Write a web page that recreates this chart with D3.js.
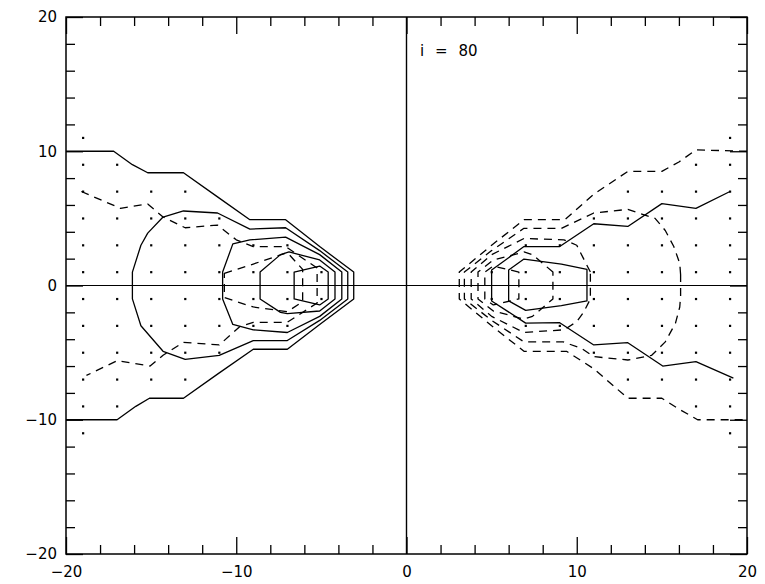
<!DOCTYPE html>
<html>
<head>
<meta charset="utf-8">
<script src="https://cdn.jsdelivr.net/npm/d3@7"></script>
<style>
  html, body { margin: 0; padding: 0; background: #fff; }
  svg { display: block; }
  text { font-family: "DejaVu Sans", sans-serif; fill: #000; }
</style>
</head>
<body>
<svg id="chart" width="765" height="584"></svg>
<script>
// ---------------- data ----------------
const xDomain = [-20, 20];
const yDomain = [-20, 20];
const majorTicks = [-20, -10, 0, 10, 20];
const minorTicks = [-18, -16, -14, -12, -8, -6, -4, -2, 2, 4, 6, 8, 12, 14, 16, 18];
const annotation = "i = 80";

// grid points marked with dots (rows of y, x positions per row)
const dotRowsY = [11, 9, 7, 5, 3, 1, -1, -3, -5, -7, -9, -11];
const dotsLeftX = [
  [-19],
  [-19, -17],
  [-19, -17, -15, -13],
  [-19, -17, -15, -13, -11],
  [-19, -17, -15, -13, -11, -9, -7],
  [-19, -17, -15, -13, -11, -9, -7, -5],
  [-19, -17, -15, -13, -11, -9, -7, -5],
  [-19, -17, -15, -13, -11, -9, -7],
  [-19, -17, -15, -13, -11],
  [-19, -17, -15, -13],
  [-19, -17],
  [-19]
];
const dotsRightX = [
  [19],
  [17, 19],
  [13, 15, 17, 19],
  [11, 13, 15, 17, 19],
  [7, 9, 11, 13, 15, 17, 19],
  [5, 7, 9, 11, 13, 15, 17, 19],
  [5, 7, 9, 11, 13, 15, 17, 19],
  [7, 9, 11, 13, 15, 17, 19],
  [11, 13, 15, 17, 19],
  [13, 15, 17, 19],
  [17, 19],
  [19]
];

// left-hand contours (solid)
const leftSolidA = [[-20,10],[-17.2,10],[-16.1,9],[-15.2,8.4],[-13.1,8.4],[-11.1,6.6],[-9.2,4.9],[-7.1,4.9],[-5.1,2.9],[-3.1,1.0],[-3.1,-1.0],[-5.1,-2.9],[-7.0,-4.75],[-9.0,-4.75],[-11.1,-6.6],[-13.1,-8.4],[-15.1,-8.4],[-15.9,-9],[-17.0,-10],[-20,-10]];
const leftSolidB = [[-16.1,1],[-15.6,3.0],[-15.2,3.9],[-14.3,5.1],[-13.1,5.55],[-11.1,5.4],[-9.2,4.2],[-7.1,4.3],[-5.1,2.6],[-3.45,1.0],[-3.45,-1.0],[-5.1,-2.6],[-7.0,-4.1],[-9.0,-4.1],[-11.0,-5.2],[-13.0,-5.5],[-14.3,-4.9],[-15.6,-3.0],[-16.1,-1]];
const leftSolidC = [[-10.8,1],[-10.2,3.1],[-9.2,3.4],[-7.1,3.6],[-5.1,2.3],[-3.8,1.0],[-3.8,-1.0],[-5.1,-2.3],[-7.0,-3.5],[-9.0,-3.3],[-10.2,-2.9],[-10.8,-1]];
const leftSolidD = [[-8.6,1],[-7.4,2.3],[-6.9,2.5],[-5.1,1.9],[-4.2,1.0],[-4.2,-1.0],[-5.1,-1.9],[-7.0,-2.1],[-7.4,-2.0],[-8.6,-1]];
const leftSolidE = [[-6.6,1.0],[-5.1,1.45],[-4.6,1.0],[-4.6,-1.0],[-5.1,-1.45],[-6.6,-1.0]];
// left-hand contours (dashed)
const leftDashA = [[-19.1,7.0],[-16.8,5.75],[-15.2,6.07],[-14.3,5.1],[-13.0,4.3],[-11.1,4.5],[-10.0,3.4],[-9.0,2.9],[-7.1,2.9],[-5.25,1.3],[-5.25,-1.3],[-7.0,-2.74],[-9.0,-2.74],[-9.8,-3.07],[-11.0,-4.43],[-13.1,-4.23],[-14.3,-5.2],[-15.06,-6.0],[-17.0,-5.6],[-18.8,-6.7]];
const leftDashB = [[-10.7,0.9],[-9.0,1.6],[-7.0,2.45],[-6.1,1.2],[-6.1,-1.2],[-7.0,-1.95],[-9.0,-1.6],[-10.7,-0.9]];

// right-hand contours (dashed)
const rightDashA = [[20,10],[17,10.1],[16,9.2],[15,8.5],[13,8.5],[11,6.8],[9.3,4.9],[6.9,4.9],[5.0,3.0],[3.1,1.0],[3.1,-1.0],[5.0,-3.0],[6.9,-4.9],[9.4,-4.9],[11,-6.2],[13,-8.4],[15,-8.4],[16,-9.2],[17.1,-10],[20,-10]];
const rightDashB = [[16.1,0.8],[16.05,1.65],[15.7,2.9],[15.2,4.1],[14.6,5.0],[13.0,5.67],[11.0,5.4],[9.1,4.26],[6.9,4.26],[5.0,2.6],[3.4,1.0],[3.4,-1.0],[5.0,-2.6],[6.9,-4.2],[9.2,-4.2],[10.3,-4.7],[11.0,-5.3],[13.0,-5.55],[14.4,-5.2],[15.2,-4.2],[15.8,-2.8],[16.05,-1.6],[16.1,-0.8]];
const rightDashC = [[10.8,1],[10.4,2.0],[10.0,3.0],[9.25,3.4],[6.9,3.5],[5.0,2.3],[3.8,1.0],[3.8,-1.0],[5.0,-2.3],[6.9,-3.5],[9.25,-3.3],[10.0,-2.7],[10.4,-2.0],[10.8,-1]];
const rightDashD = [[8.6,1],[7.4,2.3],[6.9,2.5],[5.1,1.9],[4.2,1.0],[4.2,-1.0],[5.1,-1.9],[6.9,-2.5],[7.4,-2.3],[8.6,-1]];
const rightDashE = [[6.6,1.0],[5.1,1.45],[4.6,1.0],[4.6,-1.0],[5.1,-1.45],[6.6,-1.0]];
// right-hand contours (solid)
const rightSolidA = [[19.0,7.0],[17.0,5.75],[15.0,6.1],[13.0,4.4],[11.0,4.6],[9.0,2.9],[6.9,2.9],[5.0,1.15],[5.0,-1.15],[7.0,-2.8],[9.0,-2.77],[11.0,-4.43],[13.0,-4.26],[15.05,-6.0],[17.0,-5.67],[19.2,-6.9]];
const rightSolidB = [[10.6,1.2],[9.1,1.6],[6.9,1.97],[6.0,1.15],[6.0,-1.15],[7.0,-1.85],[9.1,-1.5],[10.6,-1.15]];

// ---------------- drawing ----------------
const svg = d3.select("#chart");
const mLeft = 66, mRight = 747, mTop = 17, mBottom = 554;

const x = d3.scaleLinear().domain(xDomain).range([mLeft, mRight]);
const y = d3.scaleLinear().domain(yDomain).range([mBottom, mTop]);

const openLine = d3.line().x(d => x(d[0])).y(d => y(d[1]));
const closedLine = d3.line().x(d => x(d[0])).y(d => y(d[1])).curve(d3.curveLinearClosed);

// frame
svg.append("rect")
  .attr("x", mLeft).attr("y", mTop)
  .attr("width", mRight - mLeft).attr("height", mBottom - mTop)
  .attr("fill", "none").attr("stroke", "#000").attr("stroke-width", 1.5);

// zero lines
svg.append("line")
  .attr("x1", x(0)).attr("x2", x(0)).attr("y1", mTop).attr("y2", mBottom)
  .attr("stroke", "#000").attr("stroke-width", 1.4);
svg.append("line")
  .attr("x1", mLeft).attr("x2", mRight).attr("y1", y(0)).attr("y2", y(0))
  .attr("stroke", "#000").attr("stroke-width", 1.2);

function styleAxis(g) {
  g.select(".domain").remove();
  g.selectAll(".tick line").attr("stroke", "#000").attr("stroke-width", 1.3);
  g.selectAll("text").style("font-family", "'DejaVu Sans', sans-serif")
    .style("font-size", "15px").attr("fill", "#000");
}

// bottom axis
svg.append("g").attr("transform", `translate(0,${mBottom})`)
  .call(d3.axisBottom(x).tickValues(minorTicks).tickSize(-9).tickFormat(""))
  .call(styleAxis);
svg.append("g").attr("transform", `translate(0,${mBottom})`)
  .call(d3.axisBottom(x).tickValues(majorTicks).tickSize(-17).tickPadding(12).tickFormat(d3.format("d")))
  .call(styleAxis);
// top axis
svg.append("g").attr("transform", `translate(0,${mTop})`)
  .call(d3.axisTop(x).tickValues(minorTicks).tickSize(-9).tickFormat(""))
  .call(styleAxis);
svg.append("g").attr("transform", `translate(0,${mTop})`)
  .call(d3.axisTop(x).tickValues(majorTicks).tickSize(-17).tickFormat(""))
  .call(styleAxis);
// left axis
svg.append("g").attr("transform", `translate(${mLeft},0)`)
  .call(d3.axisLeft(y).tickValues(minorTicks).tickSize(-9).tickFormat(""))
  .call(styleAxis);
svg.append("g").attr("transform", `translate(${mLeft},0)`)
  .call(d3.axisLeft(y).tickValues(majorTicks).tickSize(-17).tickPadding(9).tickFormat(d3.format("d")))
  .call(styleAxis);
// right axis
svg.append("g").attr("transform", `translate(${mRight},0)`)
  .call(d3.axisRight(y).tickValues(minorTicks).tickSize(-9).tickFormat(""))
  .call(styleAxis);
svg.append("g").attr("transform", `translate(${mRight},0)`)
  .call(d3.axisRight(y).tickValues(majorTicks).tickSize(-17).tickFormat(""))
  .call(styleAxis);

// dots
const dots = [];
dotRowsY.forEach((yy, i) => {
  dotsLeftX[i].forEach(xx => dots.push([xx, yy]));
  dotsRightX[i].forEach(xx => dots.push([xx, yy]));
});
svg.append("g").selectAll("rect").data(dots).join("rect")
  .attr("x", d => x(d[0]) - 1).attr("y", d => y(d[1]) - 1)
  .attr("width", 2.2).attr("height", 2.2).attr("fill", "#000");

// contours
const openSolid = [leftSolidA, rightSolidA];
const closedSolid = [leftSolidB, leftSolidC, leftSolidD, leftSolidE, rightSolidB];
const openDashed = [leftDashA, rightDashA];
const closedDashed = [leftDashB, rightDashB, rightDashC, rightDashD, rightDashE];

const gC = svg.append("g").attr("fill", "none").attr("stroke", "#000")
  .attr("stroke-width", 1.3).attr("stroke-linejoin", "round");
gC.selectAll("path.os").data(openSolid).join("path").attr("class", "os").attr("d", openLine);
gC.selectAll("path.cs").data(closedSolid).join("path").attr("class", "cs").attr("d", closedLine);
gC.selectAll("path.od").data(openDashed).join("path").attr("class", "od").attr("d", openLine)
  .attr("stroke-dasharray", "8,6");
gC.selectAll("path.cd").data(closedDashed).join("path").attr("class", "cd").attr("d", closedLine)
  .attr("stroke-dasharray", "8,6");

// annotation
svg.append("text")
  .attr("x", x(0.8)).attr("y", 56)
  .attr("xml:space", "preserve")
  .style("font-size", "15px").style("word-spacing", "6px")
  .text(annotation);
</script>
</body>
</html>
